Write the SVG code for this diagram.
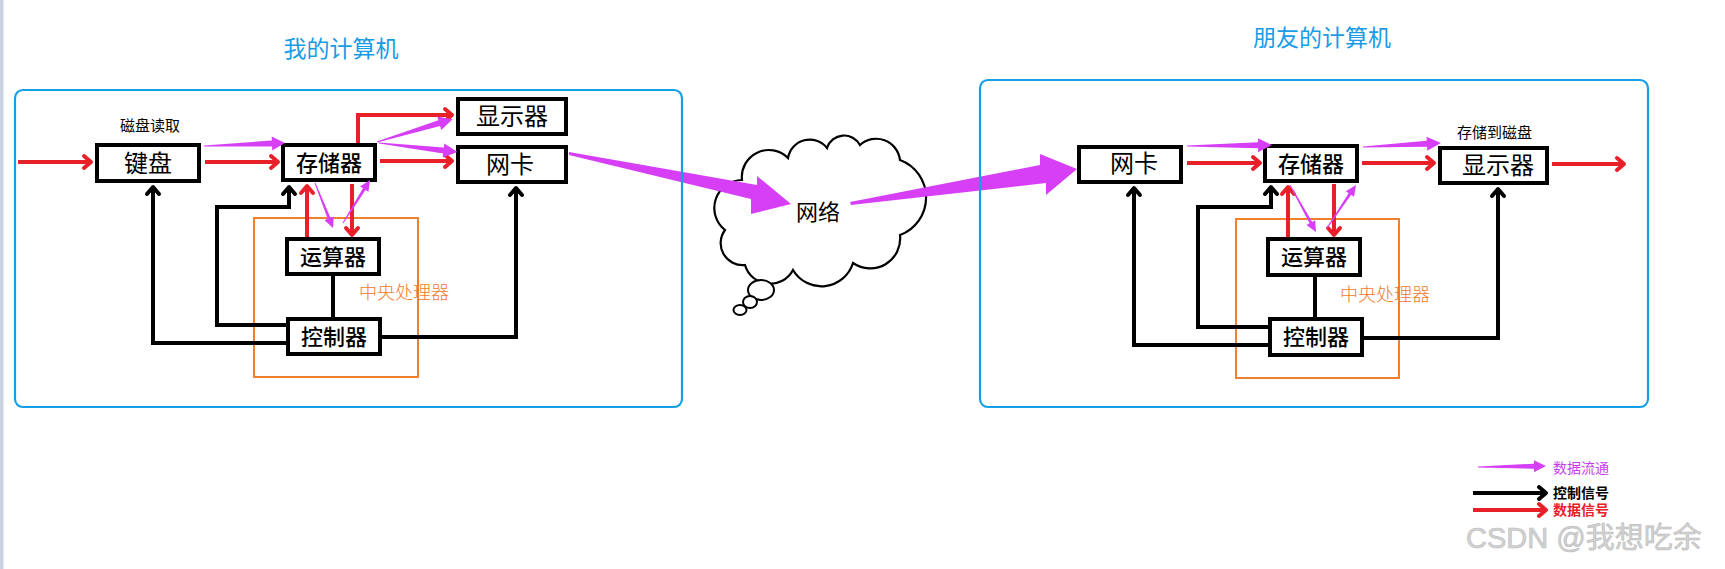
<svg xmlns="http://www.w3.org/2000/svg" width="1725" height="569" viewBox="0 0 1725 569">
<style>
.box{fill:#fff;stroke:#000;stroke-width:4}
.cpu{fill:none;stroke:#f08030;stroke-width:2}
.frame{fill:none;stroke:#15a0e6;stroke-width:2.2}
.t{font-family:"Noto Sans CJK SC","Noto Sans",sans-serif;fill:#000;text-anchor:middle}
.big{font-size:24px}
.mid{font-size:22px;font-weight:500}
.title{font-family:"Noto Sans CJK SC",sans-serif;font-size:23px;fill:#1a9be6;text-anchor:middle}
.cpuT{font-family:"Noto Sans CJK SC",sans-serif;font-size:18px;fill:#f07a2a;font-weight:300}
.small{font-family:"Noto Sans CJK SC",sans-serif;font-size:15px;fill:#000}
.red{fill:none;stroke:#e8202a;stroke-width:4;marker-end:url(#hr)}
.blk{fill:none;stroke:#000;stroke-width:4;stroke-linejoin:miter}
.blka{fill:none;stroke:#000;stroke-width:4;marker-end:url(#hb)}
.mag{fill:#d63ff6}
</style>
<defs>
<marker id="hr" markerUnits="userSpaceOnUse" markerWidth="16" markerHeight="16" refX="11" refY="8" orient="auto" overflow="visible">
<path d="M4,2 L11,8 L4,14" fill="none" stroke="#e8202a" stroke-width="4" stroke-linecap="round" stroke-linejoin="round"/>
</marker>
<marker id="hb" markerUnits="userSpaceOnUse" markerWidth="16" markerHeight="16" refX="11" refY="8" orient="auto" overflow="visible">
<path d="M4,2 L11,8 L4,14" fill="none" stroke="#000" stroke-width="4" stroke-linecap="round" stroke-linejoin="round"/>
</marker>
</defs>
<rect x="0" y="0" width="1725" height="569" fill="#fff"/>
<rect x="0" y="0" width="3.5" height="569" fill="#cbd3e3"/>

<text class="title" x="341" y="57">我的计算机</text>
<text class="title" x="1322" y="46">朋友的计算机</text>

<g id="cpu-left"><rect class="cpu" x="254" y="218" width="164" height="159"/><text class="cpuT" x="359" y="299">中央处理器</text></g>
<g id="cpu-right"><rect class="cpu" x="1236" y="219" width="163" height="159"/><text class="cpuT" x="1340" y="301">中央处理器</text></g>

<g id="connectors">
<!-- left red -->
<path class="red" d="M18,162 H91"/>
<path class="red" d="M205,162 H278"/>
<path class="red" d="M380,161 H452"/>
<path class="red" d="M358,143 V115 H452"/>
<path class="red" d="M307,237 V186"/>
<path class="red" d="M352,184 V235"/>
<!-- left black -->
<path class="blka" d="M287,343 H153 V187"/>
<path class="blka" d="M287,325 H217 V207 H289 V187"/>
<path class="blk" d="M333,276 V318"/>
<path class="blka" d="M381,337 H516 V188"/>
<!-- right red -->
<path class="red" d="M1187,163 H1260"/>
<path class="red" d="M1362,163 H1434"/>
<path class="red" d="M1552,164 H1624"/>
<path class="red" d="M1288,238 V187"/>
<path class="red" d="M1334,184 V235"/>
<!-- right black -->
<path class="blka" d="M1269,345 H1134 V188"/>
<path class="blka" d="M1269,327 H1198 V207 H1271 V187"/>
<path class="blk" d="M1315,277 V318"/>
<path class="blka" d="M1363,338 H1498 V189"/>
<!-- legend -->
<path class="blka" d="M1473,493 H1546"/>
<path class="red" d="M1473,510 H1546"/>
</g>

<g id="node-keyboard"><rect class="box" x="97" y="145" width="102" height="36"/><text class="t big" x="148" y="172">键盘</text></g>
<g id="node-memory-left"><rect class="box" x="283" y="145" width="92" height="35"/><text class="t mid" x="329" y="171">存储器</text></g>
<g id="node-display-left"><rect class="box" x="458" y="99" width="108" height="35"/><text class="t big" x="512" y="125">显示器</text></g>
<g id="node-nic-left"><rect class="box" x="458" y="147" width="108" height="35"/><text class="t big" x="510" y="173">网卡</text></g>
<g id="node-alu-left"><rect class="box" x="287" y="239" width="92" height="35"/><text class="t mid" x="333" y="265">运算器</text></g>
<g id="node-ctrl-left"><rect class="box" x="288" y="319" width="92" height="35"/><text class="t mid" x="334" y="345">控制器</text></g>
<text class="small" x="120" y="131">磁盘读取</text>

<g id="node-nic-right"><rect class="box" x="1079" y="147" width="102" height="35"/><text class="t big" x="1134" y="172">网卡</text></g>
<g id="node-memory-right"><rect class="box" x="1265" y="146" width="92" height="35"/><text class="t mid" x="1311" y="172">存储器</text></g>
<g id="node-display-right"><rect class="box" x="1440" y="148" width="107" height="35"/><text class="t big" x="1498" y="174">显示器</text></g>
<g id="node-alu-right"><rect class="box" x="1268" y="239" width="92" height="36"/><text class="t mid" x="1314" y="265">运算器</text></g>
<g id="node-ctrl-right"><rect class="box" x="1270" y="319" width="92" height="36"/><text class="t mid" x="1316" y="345">控制器</text></g>
<text class="small" x="1457" y="138">存储到磁盘</text>

<g id="node-network">
<path d="M742,180 A27,27 0 0 1 788,158 A22,22 0 0 1 827,148 A18,18 0 0 1 860,145 A24,24 0 0 1 900,160 A40,40 0 0 1 900,235 A30,30 0 0 1 853,263 A33,33 0 0 1 793,270 A26,26 0 0 1 745,265 A22,22 0 0 1 725,230 A28,28 0 0 1 742,180 Z" fill="#fff" stroke="#000" stroke-width="2.2"/>
<ellipse cx="761" cy="290" rx="13" ry="10" fill="#fff" stroke="#000" stroke-width="2"/>
<ellipse cx="750" cy="302" rx="7" ry="6" fill="#fff" stroke="#000" stroke-width="2"/>
<ellipse cx="740" cy="310" rx="6.5" ry="5" fill="#fff" stroke="#000" stroke-width="2"/>
<text class="t" x="818" y="220" font-size="22">网络</text>
</g>

<g id="dataflow">
<polygon class="mag" points="569,152 757,185 757,176 791,204 751,214 751,199 569,155"/>
<polygon class="mag" points="850,202 1040,165 1040,154 1077,169 1046,195 1046,183 851,205"/>
<path class="mag" transform="translate(204,146) rotate(-2.1)" d="M0,-0.5 L68,-3 L68,-7 L81,0 L68,7 L68,3 L0,0.5 Z"/>
<path class="mag" transform="translate(377,142) rotate(-16.8)" d="M0,-0.5 L65,-3 L65,-7 L79,0 L65,7 L65,3 L0,0.5 Z"/>
<path class="mag" transform="translate(379,143) rotate(6.6)" d="M0,-0.5 L65,-3 L65,-7 L79,0 L65,7 L65,3 L0,0.5 Z"/>
<path class="mag" transform="translate(315,183) rotate(68.2)" d="M0,-0.5 L38,-1.5 L38,-5 L48.5,0 L38,5 L38,1.5 L0,0.5 Z"/>
<path class="mag" transform="translate(343,223) rotate(-57.9)" d="M0,-0.5 L40,-1.5 L40,-5 L50.8,0 L40,5 L40,1.5 L0,0.5 Z"/>
<path class="mag" transform="translate(1187,146) rotate(-0.7)" d="M0,-0.5 L71,-3 L71,-7 L85,0 L71,7 L71,3 L0,0.5 Z"/>
<path class="mag" transform="translate(1363,147) rotate(-2.9)" d="M0,-0.5 L64,-3 L64,-7 L78,0 L64,7 L64,3 L0,0.5 Z"/>
<path class="mag" transform="translate(1290,185) rotate(61)" d="M0,-0.5 L43,-1.5 L43,-5 L53.7,0 L43,5 L43,1.5 L0,0.5 Z"/>
<path class="mag" transform="translate(1327,228) rotate(-56)" d="M0,-0.5 L41,-1.5 L41,-5 L51.9,0 L41,5 L41,1.5 L0,0.5 Z"/>
<path class="mag" transform="translate(1478,467) rotate(-0.8)" d="M0,-0.5 L56,-2.5 L56,-6 L68,0 L56,6 L56,2.5 L0,0.5 Z"/>
</g>

<rect class="frame" x="15" y="90" width="667" height="317" rx="8"/>
<rect class="frame" x="980" y="80" width="668" height="327" rx="8"/>

<g id="legend">
<text x="1553" y="473" font-family="Noto Sans CJK SC,sans-serif" font-size="14" fill="#c640f0">数据流通</text>
<text x="1553" y="498" font-family="Noto Sans CJK SC,sans-serif" font-size="14" font-weight="bold" fill="#000">控制信号</text>
<text x="1553" y="515" font-family="Noto Sans CJK SC,sans-serif" font-size="14" font-weight="bold" fill="#e8202a">数据信号</text>
</g>
<text x="1466" y="548" font-family="Liberation Sans,Noto Sans CJK SC,sans-serif" font-size="29" fill="#d2d2d2" stroke="#bbb" stroke-width="0.6">CSDN @我想吃余</text>
</svg>
